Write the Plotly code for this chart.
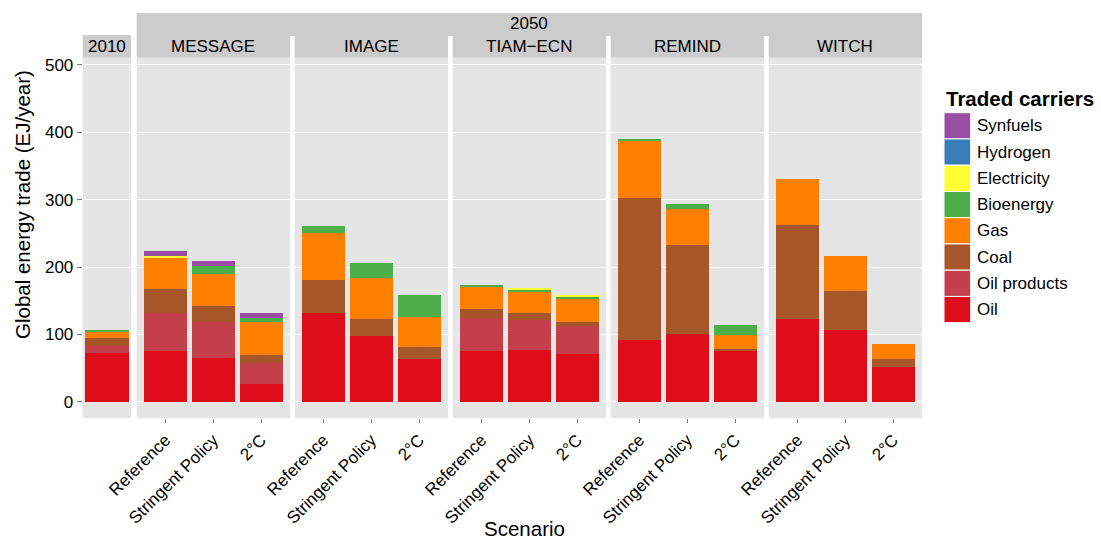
import plotly.graph_objects as go

W, H = 1101, 541
FONT = "Liberation Sans, Arial, Helvetica, sans-serif"

# ---------------- data ----------------
carriers = ["Oil", "Oil products", "Coal", "Gas", "Bioenergy", "Electricity", "Hydrogen", "Synfuels"]
carrier_colors = ["#DF0D19", "#C33F49", "#A65628", "#FF7F00", "#4DAF4A", "#FFFF33", "#377EB8", "#984EA3"]

models = ["MESSAGE", "IMAGE", "TIAM−ECN", "REMIND", "WITCH"]
scenarios = ["Reference", "Stringent Policy", "2°C"]

# 2010 values, carrier order as in `carriers`
values_2010 = [73, 9, 12, 11, 2, 0, 0, 0]

# 2050 values, ordered MESSAGE(Ref, SP, 2C), IMAGE(...), TIAM-ECN(...), REMIND(...), WITCH(...)
oil          = [76, 65, 27,   131, 97, 63,   76, 77, 71,   92, 101, 77,   123, 107, 52]
oil_products = [56, 53, 30,   0, 0, 0,       49, 45, 42,   0, 0, 0,       0, 0, 0]
coal         = [36, 24, 12,   50, 26, 18,    13, 10, 6,    211, 132, 1.5, 140, 58, 12]
gas          = [46, 48, 49,   70, 61, 45,    33, 32, 34,   86, 53, 21,    67, 52, 21]
bioenergy    = [0.5, 12, 7,   10, 22, 32,    3, 2.5, 3,    1.5, 7.5, 15,  0, 0, 0]
electricity  = [2, 0, 0,      0, 0, 0,       0, 1.5, 1.5,  0, 0, 0,       0, 0, 0]
hydrogen     = [0, 0, 0,      0, 0, 0,       0, 0, 0,      0, 0, 0,       0, 0, 0]
synfuels     = [7.5, 7, 6,    0, 0, 0,       0, 0, 0,      0, 0, 0,       0, 0, 0]
values_2050 = [oil, oil_products, coal, gas, bioenergy, electricity, hydrogen, synfuels]

legend_order = ["Synfuels", "Hydrogen", "Electricity", "Bioenergy", "Gas", "Coal", "Oil products", "Oil"]

# ---------------- geometry helpers ----------------
def fx(px):
    return px / W

def fy(py):
    return 1 - py / H

panel_top, panel_bottom = 57.7, 418.3
panels = [(82.7, 131.0)] + [(136.7 + i * 158.0, 290.0 + i * 158.0) for i in range(5)]
y_range = [-24.65, 510.8]

fig = go.Figure()

# 2010 bar
for c, col, v in zip(carriers, carrier_colors, values_2010):
    fig.add_trace(go.Bar(x=["2010"], y=[v if v else None], name=c, marker_color=col,
                         marker_line_width=0, showlegend=False, xaxis="x", yaxis="y"))

# 2050 bars
for i, m in enumerate(models):
    for c, col, vals in zip(carriers, carrier_colors, values_2050):
        seg = [v if v else None for v in vals[3 * i:3 * i + 3]]
        fig.add_trace(go.Bar(x=scenarios, y=seg, name=c, marker_color=col,
                             marker_line_width=0, showlegend=False,
                             xaxis=f"x{i + 2}", yaxis=f"y{i + 2}"))

layout = dict(
    template="none",
    width=W, height=H, autosize=False,
    margin=dict(l=0, r=0, t=0, b=0, pad=0),
    barmode="stack", bargap=0.1,
    plot_bgcolor="#E5E5E5", paper_bgcolor="white",
    font=dict(family=FONT, size=17, color="black"),
    showlegend=False,
)

for k, (x0, x1) in enumerate(panels):
    sfx = "" if k == 0 else str(k + 1)
    xa = dict(domain=[fx(x0), fx(x1)], anchor=f"y{sfx}", type="category", automargin=False,
              showgrid=False, zeroline=False, showline=False,
              tickfont=dict(family=FONT, size=17, color="black"))
    ya = dict(domain=[fy(panel_bottom), fy(panel_top)], anchor=f"x{sfx}", automargin=False,
              range=y_range, showgrid=True, gridcolor="white", gridwidth=1.3,
              zeroline=False, showline=False, tickvals=[0, 100, 200, 300, 400, 500])
    if k == 0:
        xa.update(range=[-0.5, 0.5], showticklabels=False, ticks="")
        ya.update(ticks="outside", ticklen=5, tickcolor="#7F7F7F", tickwidth=1,
                  tickfont=dict(family=FONT, size=17, color="black"))
    else:
        xa.update(range=[-0.6, 2.6], categoryorder="array", categoryarray=scenarios,
                  tickangle=-45, ticks="outside", ticklen=4, tickcolor="#7F7F7F", tickwidth=1)
        ya.update(matches="y", showticklabels=False, ticks="")
    layout[f"xaxis{sfx}"] = xa
    layout[f"yaxis{sfx}"] = ya

fig.update_layout(**layout)

shapes = []
annotations = []

# strips
shapes.append(dict(type="rect", xref="paper", yref="paper", x0=fx(82.7), x1=fx(131.0),
                   y0=fy(57.7), y1=fy(35.0), fillcolor="#CCCCCC", line_width=0, layer="below"))
annotations.append(dict(text="2010", x=fx((82.7 + 131.0) / 2), y=fy(46.5), xref="paper", yref="paper",
                        showarrow=False, xanchor="center", yanchor="middle",
                        font=dict(family=FONT, size=17, color="black")))
shapes.append(dict(type="rect", xref="paper", yref="paper", x0=fx(136.7), x1=fx(922.0),
                   y0=fy(36.0), y1=fy(13.0), fillcolor="#CCCCCC", line_width=0, layer="below"))
annotations.append(dict(text="2050", x=fx((136.7 + 922.0) / 2), y=fy(23.5), xref="paper", yref="paper",
                        showarrow=False, xanchor="center", yanchor="middle",
                        font=dict(family=FONT, size=17, color="black")))
for i, m in enumerate(models):
    x0, x1 = panels[i + 1]
    shapes.append(dict(type="rect", xref="paper", yref="paper", x0=fx(x0), x1=fx(x1),
                       y0=fy(57.7), y1=fy(35.5), fillcolor="#CCCCCC", line_width=0, layer="below"))
    annotations.append(dict(text=m, x=fx((x0 + x1) / 2), y=fy(46.5), xref="paper", yref="paper",
                            showarrow=False, xanchor="center", yanchor="middle",
                            font=dict(family=FONT, size=17, color="black")))

# axis titles
annotations.append(dict(text="Scenario", x=fx(524), y=fy(540.5), xref="paper", yref="paper",
                        showarrow=False, xanchor="center", yanchor="bottom", borderpad=0,
                        font=dict(family=FONT, size=20.5, color="black")))
annotations.append(dict(text="Global energy trade (EJ/year)", x=fx(22), y=fy(205), xref="paper",
                        yref="paper", showarrow=False, textangle=-90, xanchor="center",
                        yanchor="middle", font=dict(family=FONT, size=20.5, color="black")))

# legend (drawn manually to mimic large ggplot keys)
annotations.append(dict(text="<b>Traded carriers</b>", x=fx(944), y=fy(98.5), xref="paper",
                        yref="paper", showarrow=False, xanchor="left", yanchor="middle",
                        font=dict(family=FONT, size=20.5, color="black")))
color_of = dict(zip(carriers, carrier_colors))
key_h = 26.25
for j, name in enumerate(legend_order):
    top = 112.7 + j * key_h
    shapes.append(dict(type="rect", xref="paper", yref="paper", x0=fx(944), x1=fx(970.7),
                       y0=fy(top + key_h), y1=fy(top), fillcolor=color_of[name],
                       line=dict(color="white", width=1)))
    annotations.append(dict(text=name, x=fx(974.5), y=fy(top + key_h / 2), xref="paper",
                            yref="paper", showarrow=False, xanchor="left", yanchor="middle",
                            font=dict(family=FONT, size=17, color="black")))

fig.update_layout(shapes=shapes, annotations=annotations)

fig.write_html(
    "out.html",
    config={"displayModeBar": False},
    post_script="document.body.style.margin='0px';document.body.style.padding='0px';"
                "document.body.style.overflow='hidden';",
)
